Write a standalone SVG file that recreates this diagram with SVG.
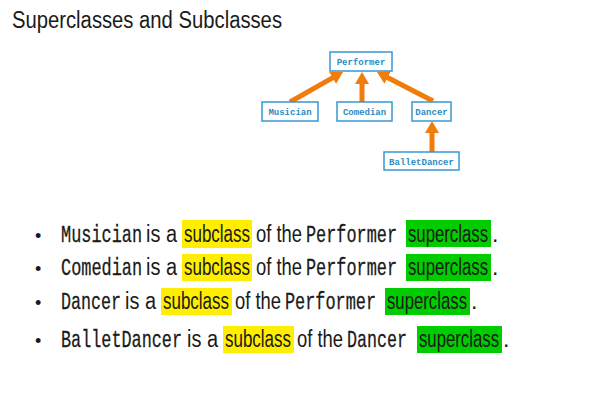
<svg xmlns="http://www.w3.org/2000/svg" width="601" height="401" viewBox="0 0 601 401">
<style>
.title{font-family:"Liberation Sans",Arial,sans-serif;font-size:23px;fill:#1a1a1a}
.box{fill:#fff;stroke:#3797d3;stroke-width:1.5}
.lbl{font-family:"Liberation Mono","Courier New",monospace;font-size:9px;font-weight:bold;fill:#2a8cc4;text-anchor:middle}
.conn{stroke:#f07c0c;stroke-width:5;fill:none;marker-end:url(#ah)}
.ln{font-family:"Liberation Sans Narrow","Liberation Sans",Arial,sans-serif;font-size:23px;fill:#1a1a1a}
.m{font-family:"Liberation Mono","Courier New",monospace;font-size:24px;stroke:#1a1a1a;stroke-width:0.3}
.b{font-family:"Liberation Sans",Arial,sans-serif;font-size:18px}
.y{fill:#ffee00}
.g{fill:#00cc00}
</style>
<defs>
<marker id="ah" markerUnits="userSpaceOnUse" markerWidth="13" markerHeight="14" refX="4" refY="7" orient="auto">
<path d="M0,0 L12,7 L0,14 z" fill="#f07c0c"/>
</marker>
</defs>
<rect width="601" height="401" fill="#fff"/>
<text class="title" x="12" y="28" textLength="270" lengthAdjust="spacingAndGlyphs">Superclasses and Subclasses</text>

<g id="connectors">
<line class="conn" x1="290" y1="102" x2="336" y2="75.9"/>
<line class="conn" x1="362" y1="102" x2="362" y2="80"/>
<line class="conn" x1="433" y1="101" x2="384.1" y2="75.7"/>
<line class="conn" x1="432" y1="152" x2="432" y2="129"/>
</g>

<g id="performer"><rect class="box" x="330" y="52" width="62" height="19"/><text class="lbl" x="361" y="65">Performer</text></g>
<g id="musician"><rect class="box" x="262" y="102" width="56" height="19"/><text class="lbl" x="290" y="115">Musician</text></g>
<g id="comedian"><rect class="box" x="337" y="102" width="55" height="19"/><text class="lbl" x="364.5" y="115">Comedian</text></g>
<g id="dancer"><rect class="box" x="412" y="102" width="39" height="19"/><text class="lbl" x="431.5" y="115">Dancer</text></g>
<g id="balletdancer"><rect class="box" x="384" y="152" width="75" height="18"/><text class="lbl" x="421.5" y="165">BalletDancer</text></g>

<g id="line1">
<rect class="y" x="182" y="220" width="70" height="28"/>
<rect class="g" x="406" y="220" width="85" height="27"/>
<text class="ln" y="242"><tspan class="b" x="35">•</tspan><tspan class="m" x="61" textLength="81" lengthAdjust="spacingAndGlyphs">Musician</tspan><tspan x="146" textLength="31" lengthAdjust="spacingAndGlyphs">is a</tspan><tspan x="184" textLength="66" lengthAdjust="spacingAndGlyphs">subclass</tspan><tspan x="256" textLength="46" lengthAdjust="spacingAndGlyphs">of the</tspan><tspan class="m" x="306" textLength="91" lengthAdjust="spacingAndGlyphs">Performer</tspan><tspan x="408" textLength="80" lengthAdjust="spacingAndGlyphs">superclass</tspan><tspan x="492">.</tspan></text>
</g>

<g id="line2">
<rect class="y" x="182" y="254" width="70" height="27"/>
<rect class="g" x="406" y="254" width="85" height="27"/>
<text class="ln" y="275"><tspan class="b" x="35">•</tspan><tspan class="m" x="61" textLength="81" lengthAdjust="spacingAndGlyphs">Comedian</tspan><tspan x="146" textLength="31" lengthAdjust="spacingAndGlyphs">is a</tspan><tspan x="184" textLength="66" lengthAdjust="spacingAndGlyphs">subclass</tspan><tspan x="256" textLength="46" lengthAdjust="spacingAndGlyphs">of the</tspan><tspan class="m" x="306" textLength="91" lengthAdjust="spacingAndGlyphs">Performer</tspan><tspan x="408" textLength="80" lengthAdjust="spacingAndGlyphs">superclass</tspan><tspan x="492">.</tspan></text>
</g>

<g id="line3">
<rect class="y" x="161" y="288" width="71" height="27"/>
<rect class="g" x="385" y="288" width="85" height="27"/>
<text class="ln" y="309"><tspan class="b" x="35">•</tspan><tspan class="m" x="61" textLength="60" lengthAdjust="spacingAndGlyphs">Dancer</tspan><tspan x="125" textLength="31" lengthAdjust="spacingAndGlyphs">is a</tspan><tspan x="163" textLength="66" lengthAdjust="spacingAndGlyphs">subclass</tspan><tspan x="235" textLength="46" lengthAdjust="spacingAndGlyphs">of the</tspan><tspan class="m" x="285" textLength="91" lengthAdjust="spacingAndGlyphs">Performer</tspan><tspan x="387" textLength="80" lengthAdjust="spacingAndGlyphs">superclass</tspan><tspan x="471">.</tspan></text>
</g>

<g id="line4">
<rect class="y" x="223" y="326" width="71" height="27"/>
<rect class="g" x="417" y="326" width="85" height="27"/>
<text class="ln" y="347"><tspan class="b" x="35">•</tspan><tspan class="m" x="61" textLength="121" lengthAdjust="spacingAndGlyphs">BalletDancer</tspan><tspan x="187" textLength="31" lengthAdjust="spacingAndGlyphs">is a</tspan><tspan x="225" textLength="66" lengthAdjust="spacingAndGlyphs">subclass</tspan><tspan x="297" textLength="46" lengthAdjust="spacingAndGlyphs">of the</tspan><tspan class="m" x="347" textLength="60" lengthAdjust="spacingAndGlyphs">Dancer</tspan><tspan x="419" textLength="80" lengthAdjust="spacingAndGlyphs">superclass</tspan><tspan x="503">.</tspan></text>
</g>
</svg>
